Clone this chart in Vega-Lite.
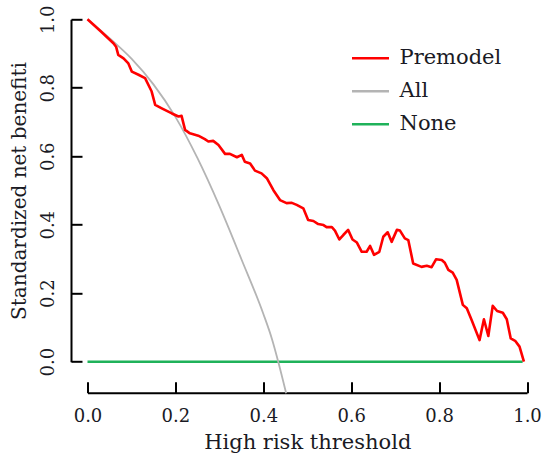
{
  "$schema": "https://vega.github.io/schema/vega-lite/v6.json",
  "width": 439.5,
  "height": 342.4,
  "autosize": "none",
  "padding": {"left": 87.5, "top": 19.3, "right": 21, "bottom": 103.3},
  "background": "white",
  "config": {"view": {"stroke": null}, "font": "DejaVu Serif"},
  "data": {"values": [
    {"t": 0, "nb": 0, "curve": "None"},
    {"t": 0.99, "nb": 0, "curve": "None"},
    {"t": 0, "nb": 1.0, "curve": "All"},
    {"t": 0.05, "nb": 0.945, "curve": "All"},
    {"t": 0.1, "nb": 0.885, "curve": "All"},
    {"t": 0.15, "nb": 0.81, "curve": "All"},
    {"t": 0.2, "nb": 0.715, "curve": "All"},
    {"t": 0.25, "nb": 0.595, "curve": "All"},
    {"t": 0.3, "nb": 0.455, "curve": "All"},
    {"t": 0.35, "nb": 0.3, "curve": "All"},
    {"t": 0.4, "nb": 0.14, "curve": "All"},
    {"t": 0.42, "nb": 0.065, "curve": "All"},
    {"t": 0.434, "nb": 0.0, "curve": "All"},
    {"t": 0.452, "nb": -0.092, "curve": "All"},
    {"t": 0, "nb": 1.0, "curve": "Premodel"},
    {"t": 0.03, "nb": 0.965, "curve": "Premodel"},
    {"t": 0.059, "nb": 0.930, "curve": "Premodel"},
    {"t": 0.065, "nb": 0.920, "curve": "Premodel"},
    {"t": 0.070, "nb": 0.896, "curve": "Premodel"},
    {"t": 0.082, "nb": 0.886, "curve": "Premodel"},
    {"t": 0.093, "nb": 0.871, "curve": "Premodel"},
    {"t": 0.101, "nb": 0.847, "curve": "Premodel"},
    {"t": 0.116, "nb": 0.838, "curve": "Premodel"},
    {"t": 0.131, "nb": 0.828, "curve": "Premodel"},
    {"t": 0.146, "nb": 0.789, "curve": "Premodel"},
    {"t": 0.154, "nb": 0.750, "curve": "Premodel"},
    {"t": 0.169, "nb": 0.740, "curve": "Premodel"},
    {"t": 0.192, "nb": 0.725, "curve": "Premodel"},
    {"t": 0.207, "nb": 0.716, "curve": "Premodel"},
    {"t": 0.214, "nb": 0.718, "curve": "Premodel"},
    {"t": 0.222, "nb": 0.677, "curve": "Premodel"},
    {"t": 0.233, "nb": 0.667, "curve": "Premodel"},
    {"t": 0.252, "nb": 0.660, "curve": "Premodel"},
    {"t": 0.267, "nb": 0.650, "curve": "Premodel"},
    {"t": 0.275, "nb": 0.643, "curve": "Premodel"},
    {"t": 0.286, "nb": 0.645, "curve": "Premodel"},
    {"t": 0.298, "nb": 0.633, "curve": "Premodel"},
    {"t": 0.313, "nb": 0.607, "curve": "Premodel"},
    {"t": 0.324, "nb": 0.607, "curve": "Premodel"},
    {"t": 0.340, "nb": 0.597, "curve": "Premodel"},
    {"t": 0.351, "nb": 0.604, "curve": "Premodel"},
    {"t": 0.358, "nb": 0.584, "curve": "Premodel"},
    {"t": 0.370, "nb": 0.579, "curve": "Premodel"},
    {"t": 0.381, "nb": 0.558, "curve": "Premodel"},
    {"t": 0.396, "nb": 0.550, "curve": "Premodel"},
    {"t": 0.408, "nb": 0.536, "curve": "Premodel"},
    {"t": 0.423, "nb": 0.501, "curve": "Premodel"},
    {"t": 0.438, "nb": 0.472, "curve": "Premodel"},
    {"t": 0.453, "nb": 0.463, "curve": "Premodel"},
    {"t": 0.465, "nb": 0.464, "curve": "Premodel"},
    {"t": 0.476, "nb": 0.458, "curve": "Premodel"},
    {"t": 0.491, "nb": 0.448, "curve": "Premodel"},
    {"t": 0.502, "nb": 0.414, "curve": "Premodel"},
    {"t": 0.514, "nb": 0.411, "curve": "Premodel"},
    {"t": 0.525, "nb": 0.402, "curve": "Premodel"},
    {"t": 0.537, "nb": 0.399, "curve": "Premodel"},
    {"t": 0.544, "nb": 0.393, "curve": "Premodel"},
    {"t": 0.556, "nb": 0.393, "curve": "Premodel"},
    {"t": 0.563, "nb": 0.383, "curve": "Premodel"},
    {"t": 0.573, "nb": 0.357, "curve": "Premodel"},
    {"t": 0.582, "nb": 0.370, "curve": "Premodel"},
    {"t": 0.593, "nb": 0.385, "curve": "Premodel"},
    {"t": 0.603, "nb": 0.357, "curve": "Premodel"},
    {"t": 0.613, "nb": 0.348, "curve": "Premodel"},
    {"t": 0.624, "nb": 0.321, "curve": "Premodel"},
    {"t": 0.635, "nb": 0.321, "curve": "Premodel"},
    {"t": 0.643, "nb": 0.338, "curve": "Premodel"},
    {"t": 0.652, "nb": 0.312, "curve": "Premodel"},
    {"t": 0.664, "nb": 0.321, "curve": "Premodel"},
    {"t": 0.673, "nb": 0.365, "curve": "Premodel"},
    {"t": 0.683, "nb": 0.378, "curve": "Premodel"},
    {"t": 0.692, "nb": 0.350, "curve": "Premodel"},
    {"t": 0.704, "nb": 0.385, "curve": "Premodel"},
    {"t": 0.711, "nb": 0.383, "curve": "Premodel"},
    {"t": 0.722, "nb": 0.360, "curve": "Premodel"},
    {"t": 0.730, "nb": 0.355, "curve": "Premodel"},
    {"t": 0.741, "nb": 0.287, "curve": "Premodel"},
    {"t": 0.760, "nb": 0.277, "curve": "Premodel"},
    {"t": 0.772, "nb": 0.280, "curve": "Premodel"},
    {"t": 0.783, "nb": 0.276, "curve": "Premodel"},
    {"t": 0.793, "nb": 0.299, "curve": "Premodel"},
    {"t": 0.806, "nb": 0.297, "curve": "Premodel"},
    {"t": 0.813, "nb": 0.289, "curve": "Premodel"},
    {"t": 0.821, "nb": 0.268, "curve": "Premodel"},
    {"t": 0.831, "nb": 0.260, "curve": "Premodel"},
    {"t": 0.840, "nb": 0.239, "curve": "Premodel"},
    {"t": 0.854, "nb": 0.166, "curve": "Premodel"},
    {"t": 0.863, "nb": 0.156, "curve": "Premodel"},
    {"t": 0.874, "nb": 0.122, "curve": "Premodel"},
    {"t": 0.892, "nb": 0.063, "curve": "Premodel"},
    {"t": 0.902, "nb": 0.124, "curve": "Premodel"},
    {"t": 0.912, "nb": 0.075, "curve": "Premodel"},
    {"t": 0.922, "nb": 0.163, "curve": "Premodel"},
    {"t": 0.932, "nb": 0.148, "curve": "Premodel"},
    {"t": 0.945, "nb": 0.143, "curve": "Premodel"},
    {"t": 0.954, "nb": 0.124, "curve": "Premodel"},
    {"t": 0.963, "nb": 0.068, "curve": "Premodel"},
    {"t": 0.973, "nb": 0.061, "curve": "Premodel"},
    {"t": 0.983, "nb": 0.044, "curve": "Premodel"},
    {"t": 0.993, "nb": 0.0, "curve": "Premodel"}
  ]},
  "encoding": {
    "x": {
      "field": "t", "type": "quantitative",
      "scale": {"domain": [0, 1], "nice": false, "zero": false},
      "axis": {
        "values": [0, 0.2, 0.4, 0.6, 0.8, 1], "format": ".1f",
        "offset": 31, "tickSize": -11, "domainWidth": 2, "tickWidth": 2,
        "domainColor": "#000", "tickColor": "#000", "grid": false,
        "labelFont": "DejaVu Serif", "labelFontSize": 18, "labelColor": "#1a1a24",
        "labelPadding": 26, "labelFlush": false, "labelOverlap": false,
        "title": "High risk threshold", "titleFont": "DejaVu Serif", "titleFontSize": 21,
        "titleFontWeight": "normal", "titleColor": "#1a1a24", "titlePadding": 6
      }
    },
    "y": {
      "field": "nb", "type": "quantitative",
      "scale": {"domain": [0, 1], "nice": false, "zero": false},
      "axis": {
        "values": [0, 0.2, 0.4, 0.6, 0.8, 1], "format": ".1f",
        "offset": 16.5, "tickSize": -11, "domainWidth": 2, "tickWidth": 2,
        "domainColor": "#000", "tickColor": "#000", "grid": false,
        "labelFont": "DejaVu Serif", "labelFontSize": 18, "labelColor": "#1a1a24",
        "labelAngle": 270, "labelAlign": "center", "labelBaseline": "alphabetic",
        "labelPadding": 29, "labelFlush": false, "labelOverlap": false,
        "title": "Standardized net benefiti", "titleFont": "DejaVu Serif", "titleFontSize": 20,
        "titleFontWeight": "normal", "titleColor": "#1a1a24", "titlePadding": 10
      }
    },
    "color": {
      "field": "curve", "type": "nominal",
      "scale": {"domain": ["Premodel", "All", "None"], "range": ["#FF0000", "#B4B4B4", "#1FB25A"]},
      "legend": {
        "orient": "none", "legendX": 263, "legendY": 19, "title": null, "padding": 0,
        "symbolType": "stroke", "symbolSize": 1369, "symbolStrokeWidth": 2.5,
        "labelFont": "DejaVu Serif", "labelFontSize": 21, "labelColor": "#1a1a24",
        "labelOffset": 9, "rowPadding": 3
      }
    }
  },
  "layer": [
    {
      "transform": [{"filter": "datum.curve === 'None'"}],
      "mark": {"type": "line", "clip": false, "strokeWidth": 2.6, "strokeCap": "butt"}
    },
    {
      "transform": [{"filter": "datum.curve === 'All'"}],
      "mark": {"type": "line", "clip": false, "strokeWidth": 1.8, "interpolate": "monotone", "strokeCap": "butt"}
    },
    {
      "transform": [{"filter": "datum.curve === 'Premodel'"}],
      "mark": {"type": "line", "clip": false, "strokeWidth": 2.6, "strokeJoin": "round", "strokeCap": "butt"}
    }
  ]
}
